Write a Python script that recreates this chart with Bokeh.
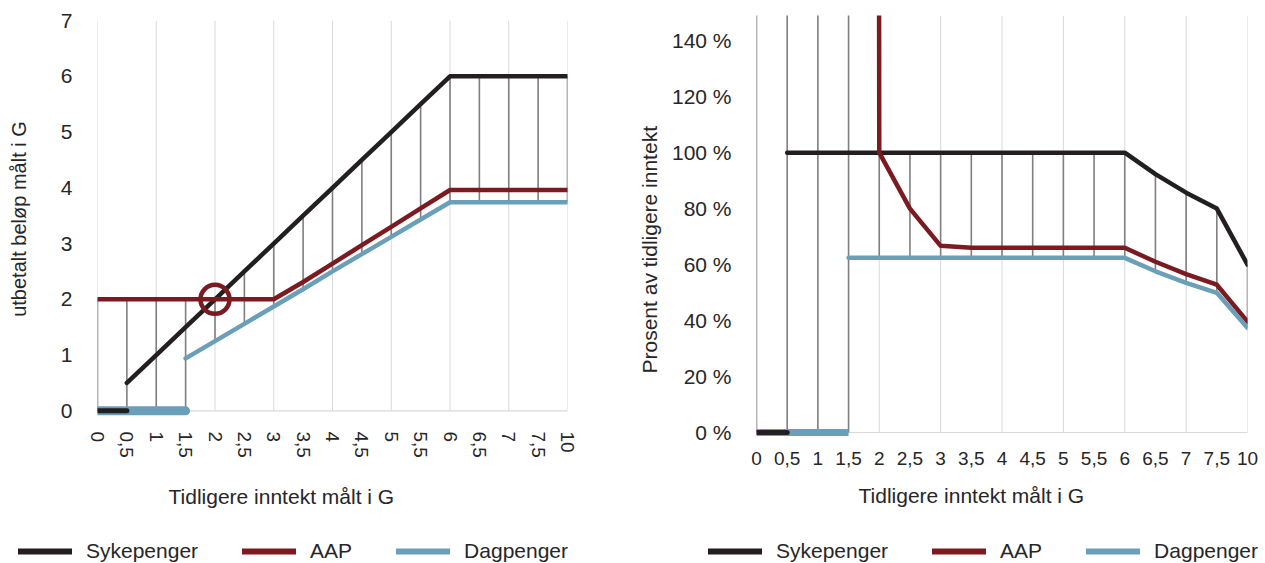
import math
import numpy as np
from bokeh.plotting import figure
from bokeh.models import FixedTicker, Range1d, Legend, LegendItem, Title
from bokeh.layouts import row, column
from bokeh.embed import file_html
from bokeh.resources import INLINE

# ---------------- data ----------------
categories = ["0", "0,5", "1", "1,5", "2", "2,5", "3", "3,5", "4", "4,5",
              "5", "5,5", "6", "6,5", "7", "7,5", "10"]

# left chart: paid amount measured in G
syk_belop = [None, 0.5, 1, 1.5, 2, 2.5, 3, 3.5, 4, 4.5, 5, 5.5, 6, 6, 6, 6, 6]
syk_belop_null = [0, 0, None, None, None, None, None, None, None, None,
                  None, None, None, None, None, None, None]
aap_belop = [2, 2, 2, 2, 2, 2, 2, 2.31, 2.64, 2.97, 3.3, 3.63, 3.96, 3.96, 3.96, 3.96, 3.96]
dag_belop = [None, None, None, 0.94, 1.25, 1.56, 1.87, 2.18, 2.5, 2.81,
             3.12, 3.43, 3.74, 3.74, 3.74, 3.74, 3.74]
dag_belop_null = [0, 0, 0, 0, None, None, None, None, None, None,
                  None, None, None, None, None, None, None]
marked_category = "2"
marked_value = 2

# right chart: percent of previous income
syk_prosent = [None, 100, 100, 100, 100, 100, 100, 100, 100, 100, 100, 100, 100,
               92.3, 85.7, 80, 60]
syk_prosent_null = [0, 0, None, None, None, None, None, None, None, None,
                    None, None, None, None, None, None, None]
aap_prosent = [10000, 10000, 10000, 10000, 100, 80, 66.7, 66, 66, 66, 66, 66, 66,
               61, 56.6, 52.8, 39.6]
dag_prosent = [None, None, None, 62.4, 62.4, 62.4, 62.4, 62.4, 62.4, 62.4,
               62.4, 62.4, 62.4, 57.6, 53.5, 49.9, 37.4]
dag_prosent_null = [0, 0, 0, 0, None, None, None, None, None, None,
                    None, None, None, None, None, None, None]

left_yticks = [0, 1, 2, 3, 4, 5, 6, 7]
left_ytick_labels = ["0", "1", "2", "3", "4", "5", "6", "7"]
right_yticks = [0, 20, 40, 60, 80, 100, 120, 140]
right_ytick_labels = ["0 %", "20 %", "40 %", "60 %", "80 %", "100 %", "120 %", "140 %"]

series_names = ["Sykepenger", "AAP", "Dagpenger"]
x_title = "Tidligere inntekt målt i G"
left_y_title = "utbetalt beløp målt i G"
right_y_title = "Prosent av tidligere inntekt"

# ---------------- style / geometry ----------------
FONT = "Liberation Sans"
TEXT = "#262626"
C_SYK = "#231f20"
C_AAP = "#7b1a20"
C_DAG = "#6a9fba"
COLORS = [C_SYK, C_AAP, C_DAG]
GRID = "#d9d9d9"
HL = "#7f7f7f"
LEG_H = 26
FIG_H = 563 - LEG_H

xs = np.arange(len(categories), dtype=float)


def arr(v):
    return np.array([np.nan if a is None else a for a in v], dtype=float)


def no_align(fig):
    if "frame_align" in fig.properties():
        fig.frame_align = False


def build(width, borders, y_start, y_end, grid_top, yticks, ylabels,
          syk, syk0, aap, dag, dag0, zero_width, zero_cap):
    left, right, top, bottom = borders
    p = figure(width=width, height=FIG_H, output_backend="svg",
               toolbar_location=None, min_border_left=left,
               min_border_right=right, min_border_top=top,
               min_border_bottom=bottom,
               x_range=Range1d(0, len(categories) - 1),
               y_range=Range1d(y_start, y_end))
    no_align(p)
    p.outline_line_color = None
    p.background_fill_color = "white"
    p.border_fill_color = "white"
    p.grid.visible = False

    # vertical gridlines every second category, plus the base line
    gx = xs[::2]
    p.segment(x0=gx, y0=np.zeros_like(gx), x1=gx, y1=np.full_like(gx, grid_top),
              line_color=GRID, line_width=1)
    p.segment(x0=[xs[0]], y0=[0], x1=[xs[-1]], y1=[0], line_color=GRID,
              line_width=1.2)

    S, S0, A, D, D0 = arr(syk), arr(syk0), arr(aap), arr(dag), arr(dag0)
    stack = np.vstack([S, S0, A, D, D0])
    lo = np.nanmin(stack, axis=0)
    hi = np.nanmax(stack, axis=0)
    p.segment(x0=xs, y0=lo, x1=xs, y1=hi, line_color=HL, line_width=1.6)

    p.line(xs, D0, line_color=C_DAG, line_width=zero_width, line_cap=zero_cap)
    p.line(xs, S, line_color=C_SYK, line_width=4.5,
           line_join="round", line_cap="round")
    p.line(xs, A, line_color=C_AAP, line_width=4.5,
           line_join="round", line_cap="round")
    p.line(xs, D, line_color=C_DAG, line_width=4.5,
           line_join="round", line_cap="round")
    p.line(xs, S0, line_color=C_SYK, line_width=5, line_cap="round")

    xa = p.xaxis[0]
    xa.ticker = FixedTicker(ticks=list(xs))
    xa.major_label_overrides = {float(i): c for i, c in enumerate(categories)}
    xa.axis_line_color = None
    xa.major_tick_line_color = None
    xa.minor_tick_line_color = None
    xa.major_label_text_font = FONT
    xa.major_label_text_font_size = "19px"
    xa.major_label_text_color = TEXT

    ya = p.yaxis[0]
    ya.ticker = FixedTicker(ticks=yticks)
    ya.major_label_overrides = {t: l for t, l in zip(yticks, ylabels)}
    ya.axis_line_color = None
    ya.major_tick_line_color = None
    ya.minor_tick_line_color = None
    ya.major_label_text_font = FONT
    ya.major_label_text_font_size = "21px"
    ya.major_label_text_color = TEXT
    return p, xa, ya


def legend_fig(width, x_pos):
    q = figure(width=width, height=LEG_H, output_backend="svg",
               toolbar_location=None, min_border=0,
               x_axis_location=None, y_axis_location=None,
               x_range=Range1d(0, 1), y_range=Range1d(0, 1))
    no_align(q)
    q.outline_line_color = None
    q.grid.visible = False
    # legend swatches only: the samples lie outside the visible range
    rs = [q.line(x=[5, 6], y=[5, 5], line_color=c, line_width=6, line_cap="round")
          for c in COLORS]
    legend = Legend(items=[LegendItem(label=n, renderers=[r])
                           for n, r in zip(series_names, rs)],
                    location=(x_pos, 0), orientation="horizontal",
                    glyph_width=54, glyph_height=20, label_height=20,
                    label_standoff=14, spacing=44, padding=0, margin=0,
                    border_line_color=None, background_fill_alpha=0,
                    label_text_font=FONT, label_text_font_size="21px",
                    label_text_color=TEXT)
    q.add_layout(legend)
    return q


# ---------- left chart: frame 20..417 px, 0 at ~410 px ----------
p1, xa1, ya1 = build(630, (97, 63, 20, FIG_H - 417), -0.12, 7, 7,
                     left_yticks, left_ytick_labels,
                     syk_belop, syk_belop_null, aap_belop, dag_belop, dag_belop_null,
                     9, "round")
xa1.major_label_standoff = 8
xa1.major_label_orientation = -math.pi / 2
ya1.major_label_standoff = 19
ya1.axis_label = left_y_title
ya1.axis_label_standoff = 28
ya1.axis_label_text_font = FONT
ya1.axis_label_text_font_size = "20px"
ya1.axis_label_text_font_style = "normal"
ya1.axis_label_text_color = TEXT
p1.add_layout(Title(text=x_title, align="left", offset=71,
                    vertical_align="top", standoff=48,
                    text_font=FONT, text_font_size="21px",
                    text_font_style="normal", text_color=TEXT), "below")
# red circle marking the crossing
p1.scatter(x=[float(categories.index(marked_category))], y=[marked_value],
           marker="circle", size=29, fill_alpha=0, line_color=C_AAP,
           line_width=4.5)

# ---------- right chart: frame 15..439 px, 0 % at ~432 px ----------
p2, xa2, ya2 = build(635, (126, 18, 15, FIG_H - 439), -2.5, 149, 149,
                     right_yticks, right_ytick_labels,
                     syk_prosent, syk_prosent_null, aap_prosent, dag_prosent,
                     dag_prosent_null, 7, "butt")
xa2.major_label_standoff = 6
ya2.major_label_standoff = 19
p2.add_layout(Title(text=right_y_title, align="left", offset=66,
                    vertical_align="top", standoff=11,
                    text_font=FONT, text_font_size="21px",
                    text_font_style="normal", text_color=TEXT), "left")
p2.add_layout(Title(text=x_title, align="left", offset=102,
                    vertical_align="top", standoff=32,
                    text_font=FONT, text_font_size="21px",
                    text_font_style="normal", text_color=TEXT), "below")

l1 = legend_fig(630, 18)
l2 = legend_fig(635, 78)

layout = column(row(p1, p2), row(l1, l2))
open("out.html", "w").write(file_html(layout, INLINE))
